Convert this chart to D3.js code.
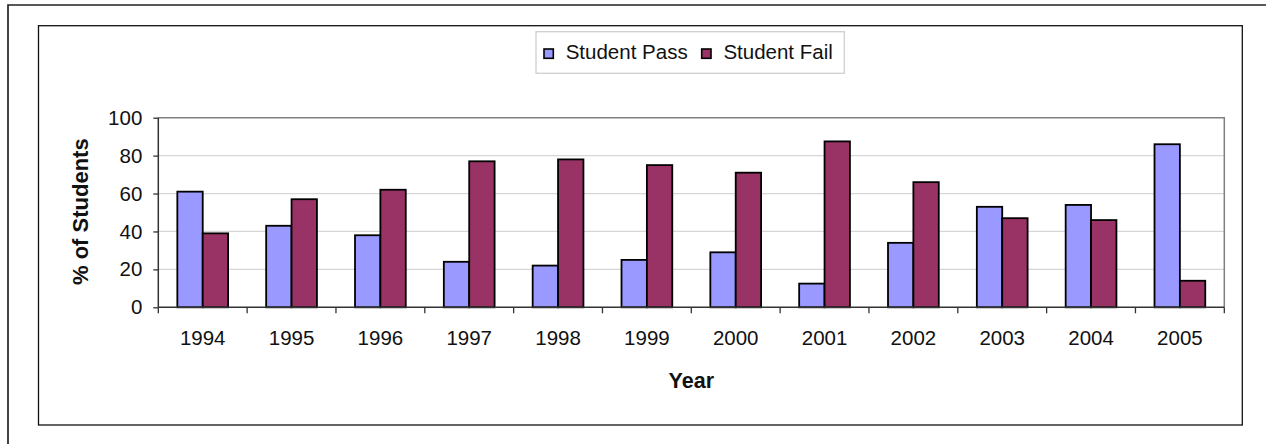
<!DOCTYPE html>
<html>
<head>
<meta charset="utf-8">
<script src="https://cdn.jsdelivr.net/npm/d3@7"></script>
<style>
  body { margin: 0; background: #fff; }
  svg { display: block; font-family: "Liberation Sans", Arial, sans-serif; }
</style>
</head>
<body>
<svg width="1266" height="444"></svg>
<script>
var years = ['1994', '1995', '1996', '1997', '1998', '1999', '2000', '2001', '2002', '2003', '2004', '2005'];
var seriesNames = ['Student Pass', 'Student Fail'];
var passValues = [61, 43, 38, 24, 22, 25, 29, 12.5, 34, 53, 54, 86];
var failValues = [39, 57, 62, 77, 78, 75, 71, 87.5, 66, 47, 46, 14];
var yTicks = [0, 20, 40, 60, 80, 100];
var colors = ['#9999ff', '#993366'];

var rows = years.map((y, i) => ({ year: y, values: [passValues[i], failValues[i]] }));

var svg = d3.select('svg');

// page frame and chart frame
svg.append('path')
  .attr('d', 'M8,444 V5 H1266')
  .attr('fill', 'none')
  .attr('stroke', '#222')
  .attr('stroke-width', 1.7);

svg.append('rect')
  .attr('x', 38.5).attr('y', 25.7)
  .attr('width', 1242.3 - 38.5).attr('height', 425 - 25.7)
  .attr('fill', '#fff')
  .attr('stroke', '#111')
  .attr('stroke-width', 1.3);

var plotLeft = 158.3, plotRight = 1224.3, plotTop = 117.7, plotBottom = 307.3;

var x0 = d3.scaleBand()
  .domain(years)
  .range([plotLeft, plotRight]);

var x1 = d3.scaleBand()
  .domain(seriesNames)
  .range([0, x0.bandwidth()])
  .paddingOuter(0.75);

var y = d3.scaleLinear()
  .domain([0, 100])
  .range([plotBottom, plotTop]);

// gridlines
svg.append('g')
  .selectAll('line')
  .data(yTicks.filter(d => d > 0 && d < 100))
  .enter()
  .append('line')
  .attr('x1', plotLeft).attr('x2', plotRight)
  .attr('y1', d => y(d)).attr('y2', d => y(d))
  .attr('stroke', '#d6d6d6')
  .attr('stroke-width', 1.3);

// plot border top/right
svg.append('path')
  .attr('d', `M${plotLeft},${y(100)} H${plotRight} V${plotBottom}`)
  .attr('fill', 'none')
  .attr('stroke', '#808080')
  .attr('stroke-width', 1.5);

// bars
svg.append('g')
  .selectAll('g')
  .data(rows)
  .enter()
  .append('g')
  .attr('transform', d => `translate(${x0(d.year)},0)`)
  .selectAll('rect')
  .data(d => d.values.map((v, i) => ({ key: seriesNames[i], value: v, i: i })))
  .enter()
  .append('rect')
  .attr('x', d => x1(d.key))
  .attr('y', d => y(d.value))
  .attr('width', x1.bandwidth())
  .attr('height', d => y(0) - y(d.value))
  .attr('fill', d => colors[d.i])
  .attr('stroke', '#000')
  .attr('stroke-width', 1.8);

// y axis
var yAxis = d3.axisLeft(y)
  .tickValues(yTicks)
  .tickSize(5)
  .tickPadding(11);

var yg = svg.append('g')
  .attr('transform', `translate(${plotLeft},0)`)
  .call(yAxis);
yg.select('.domain').remove();
yg.selectAll('.tick line').attr('stroke', '#333').attr('stroke-width', 1.3);
yg.selectAll('.tick text')
  .attr('font-size', 20.5)
  .attr('font-family', '"Liberation Sans", Arial, sans-serif')
  .attr('fill', '#111');

svg.append('line')
  .attr('x1', plotLeft).attr('x2', plotLeft)
  .attr('y1', plotTop).attr('y2', plotBottom)
  .attr('stroke', '#333').attr('stroke-width', 1.5);

// x axis
var xAxis = d3.axisBottom(x0).tickSize(0).tickPadding(23);
var xg = svg.append('g')
  .attr('transform', `translate(0,${plotBottom})`)
  .call(xAxis);
xg.select('.domain').remove();
xg.selectAll('.tick text')
  .attr('font-size', 20.5)
  .attr('font-family', '"Liberation Sans", Arial, sans-serif')
  .attr('fill', '#111');

svg.append('g')
  .selectAll('line')
  .data(years.concat(['end']))
  .enter()
  .append('line')
  .attr('x1', d => d === 'end' ? plotRight : x0(d))
  .attr('x2', d => d === 'end' ? plotRight : x0(d))
  .attr('y1', plotBottom).attr('y2', plotBottom + 6)
  .attr('stroke', '#333').attr('stroke-width', 1.3);

svg.append('line')
  .attr('x1', plotLeft).attr('x2', plotRight)
  .attr('y1', plotBottom).attr('y2', plotBottom)
  .attr('stroke', '#333').attr('stroke-width', 1.5);

// axis titles
svg.append('text')
  .attr('x', (plotLeft + plotRight) / 2)
  .attr('y', 388.3)
  .attr('text-anchor', 'middle')
  .attr('font-size', 21.5)
  .attr('font-weight', 'bold')
  .attr('fill', '#111')
  .text('Year');

svg.append('text')
  .attr('transform', 'translate(88.3,211.7) rotate(-90)')
  .attr('text-anchor', 'middle')
  .attr('font-size', 22)
  .attr('font-weight', 'bold')
  .attr('fill', '#111')
  .text('% of Students');

// legend
var legend = svg.append('g');
legend.append('rect')
  .attr('x', 536).attr('y', 31.7)
  .attr('width', 844.3 - 536).attr('height', 73.3 - 31.7)
  .attr('fill', '#fff')
  .attr('stroke', '#cfcfcf')
  .attr('stroke-width', 1.3);

var legendX = [544, 701.7];
var items = legend.selectAll('g.item')
  .data(seriesNames)
  .enter()
  .append('g')
  .attr('transform', (d, i) => `translate(${legendX[i]},0)`);

items.append('rect')
  .attr('x', 0).attr('y', 49)
  .attr('width', 9.3).attr('height', 9.3)
  .attr('fill', (d, i) => colors[i])
  .attr('stroke', '#000')
  .attr('stroke-width', 1.6);

items.append('text')
  .attr('x', 21.7)
  .attr('y', 59)
  .attr('font-size', 20.5)
  .attr('fill', '#111')
  .text(d => d);
</script>
</body>
</html>
